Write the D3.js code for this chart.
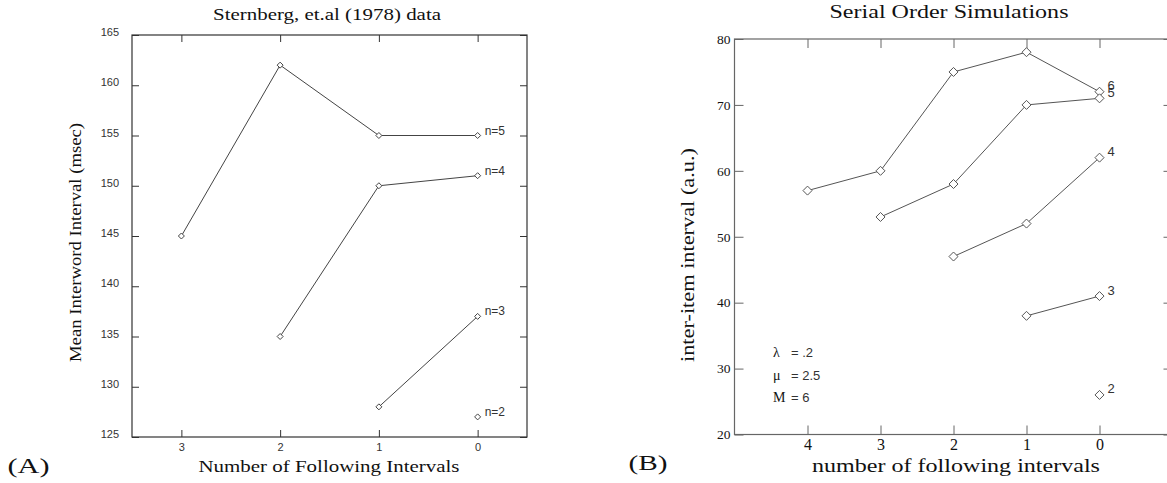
<!DOCTYPE html>
<html>
<head>
<meta charset="utf-8">
<script src="https://cdn.jsdelivr.net/npm/d3@7"></script>
<style>
  body { margin: 0; background: #fff; }
  svg { display: block; }
  .serif { font-family: "Liberation Serif", "Times New Roman", serif; fill: #111; }
  .sans { font-family: "Liberation Sans", Arial, sans-serif; fill: #333; }
</style>
</head>
<body>
<svg id="chart" width="1167" height="483"></svg>
<script>
// (A) Sternberg et al. (1978) data
const sternbergTicksX = [3, 2, 1, 0];
const sternbergTicksY = [125, 130, 135, 140, 145, 150, 155, 160, 165];
const sternbergN5 = { label: "n=5", x: [3, 2, 1, 0], y: [145, 162, 155, 155] };
const sternbergN4 = { label: "n=4", x: [2, 1, 0], y: [135, 150, 151] };
const sternbergN3 = { label: "n=3", x: [1, 0], y: [128, 137] };
const sternbergN2 = { label: "n=2", x: [0], y: [127] };

// (B) serial order simulations
const simTicksX = [4, 3, 2, 1, 0];
const simTicksY = [20, 30, 40, 50, 60, 70, 80];
const sim6 = { label: "6", x: [4, 3, 2, 1, 0], y: [57, 60, 75, 78, 72] };
const sim5 = { label: "5", x: [3, 2, 1, 0], y: [53, 58, 70, 71] };
const sim4 = { label: "4", x: [2, 1, 0], y: [47, 52, 62] };
const sim3 = { label: "3", x: [1, 0], y: [38, 41] };
const sim2 = { label: "2", x: [0], y: [26] };
const simParams = [["λ", "= .2"], ["μ", "= 2.5"], ["M", "= 6"]];

const svg = d3.select("#chart");

function renderPanel(cfg) {
  const x = d3.scaleLinear().domain(cfg.xDomain).range([cfg.left, cfg.right]);
  const y = d3.scaleLinear().domain(cfg.yDomain).range([cfg.bottom, cfg.top]);
  const g = svg.append("g");
  const fmt = d3.format("d");

  const axes = [
    { axis: d3.axisBottom(x).tickValues(cfg.xTicks).tickFormat(fmt), at: `translate(0,${cfg.bottom})`, cls: "x-labels", pad: cfg.xPad },
    { axis: d3.axisTop(x).tickValues(cfg.xTicks).tickFormat(""), at: `translate(0,${cfg.top})` },
    { axis: d3.axisLeft(y).tickValues(cfg.yTicks).tickFormat(fmt), at: `translate(${cfg.left},0)`, cls: "y-labels", pad: cfg.yPad },
    { axis: d3.axisRight(y).tickValues(cfg.yTicks).tickFormat(""), at: `translate(${cfg.right},0)` },
  ];
  axes.forEach((a) => {
    const ag = g.append("g")
      .attr("class", a.cls || "no-labels")
      .attr("transform", a.at)
      .call(a.axis.tickSize(-cfg.tickLen).tickPadding(a.pad || 0));
    ag.select(".domain").remove();
    ag.selectAll(".tick line").attr("stroke", cfg.frameColor);
    ag.selectAll("text").attr("fill", null).attr("font-family", null).attr("font-size", null);
  });

  g.append("rect")
    .attr("x", cfg.left).attr("y", cfg.top)
    .attr("width", cfg.right - cfg.left).attr("height", cfg.bottom - cfg.top)
    .attr("fill", "none").attr("stroke", cfg.frameColor).attr("stroke-width", 1.2);

  const line = d3.line().x((d) => x(d[0])).y((d) => y(d[1]));
  const sg = g.append("g").selectAll("g").data(cfg.series).join("g");

  sg.append("path")
    .attr("d", (s) => line(d3.zip(s.x, s.y)))
    .attr("fill", "none").attr("stroke", cfg.lineColor).attr("stroke-width", 1);

  sg.selectAll("path.pt")
    .data((s) => d3.zip(s.x, s.y))
    .join("path")
    .attr("class", "pt")
    .attr("transform", (d) => `translate(${x(d[0])},${y(d[1])})`)
    .attr("d", `M0,${-cfg.dia}L${cfg.dia},0L0,${cfg.dia}L${-cfg.dia},0Z`)
    .attr("fill", "#fff").attr("stroke", cfg.lineColor).attr("stroke-width", 1);

  sg.append("text")
    .attr("class", "sans")
    .attr("x", (s) => x(s.x[s.x.length - 1]) + cfg.labelDx)
    .attr("y", (s) => y(s.y[s.y.length - 1]) + cfg.labelDy)
    .attr("font-size", cfg.labelSize)
    .text((s) => s.label);

  return { x, y, g };
}

function title(text, x, y, size, len, rotate) {
  const t = svg.append("text").attr("class", "serif")
    .attr("text-anchor", "middle").attr("font-size", size)
    .attr("textLength", len).attr("lengthAdjust", "spacingAndGlyphs")
    .text(text);
  if (rotate) t.attr("transform", `translate(${x},${y}) rotate(-90)`);
  else t.attr("x", x).attr("y", y);
  return t;
}

// ---- panel A
const a = renderPanel({
  left: 132, right: 527, top: 35, bottom: 437,
  xDomain: [3.5, -0.5], yDomain: [125, 165],
  xTicks: sternbergTicksX, yTicks: sternbergTicksY,
  tickLen: 7, xPad: 6, yPad: 13,
  frameColor: "#333", lineColor: "#444", dia: 3,
  series: [sternbergN5, sternbergN4, sternbergN3, sternbergN2],
  labelDx: 7, labelDy: -1, labelSize: 12,
});
a.g.selectAll(".tick text").attr("class", "sans").attr("font-size", 11).attr("fill", "#333");
a.g.selectAll(".y-labels .tick text").attr("dy", "0.05em");

title("Sternberg, et.al (1978) data", 327, 20, 16, 228);
title("Number of Following Intervals", 329, 472, 17, 261);
title("Mean Interword Interval (msec)", 81, 242.5, 16, 239, true);
title("(A)", 28.5, 473, 22, 42);

// ---- panel B
const b = renderPanel({
  left: 734.5, right: 1172.5, top: 39, bottom: 434.5,
  xDomain: [5, -1], yDomain: [20, 80],
  xTicks: simTicksX, yTicks: simTicksY,
  tickLen: 9, xPad: 4, yPad: 4,
  frameColor: "#666", lineColor: "#555", dia: 4.5,
  series: [sim6, sim5, sim4, sim3, sim2],
  labelDx: 8, labelDy: -1.5, labelSize: 13,
});
b.g.selectAll(".tick text").attr("class", "serif");
b.g.selectAll(".y-labels .tick text").attr("font-family", "DejaVu Serif").attr("font-size", 13.5);
b.g.selectAll(".x-labels .tick text").attr("font-size", 16);

title("Serial Order Simulations", 949, 18, 18, 239);
title("number of following intervals", 956, 472, 19, 288);
title("inter-item interval (a.u.)", 694, 255, 19, 214, true);
title("(B)", 648, 470, 22, 39);

simParams.forEach(([sym, rest], i) => {
  const t = svg.append("text").attr("x", 773).attr("y", 357 + i * 22.5).attr("font-size", 13);
  t.append("tspan").attr("class", "serif").attr("font-size", 14).text(sym);
  t.append("tspan").attr("class", "sans").attr("x", 791).text(rest);
});
</script>
</body>
</html>
